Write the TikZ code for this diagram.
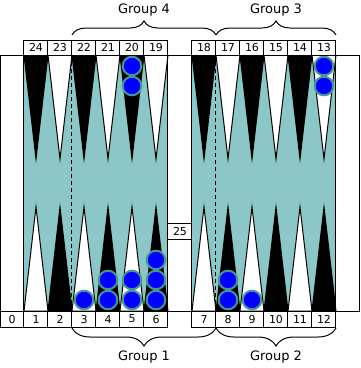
\documentclass[tikz,border=0pt]{standalone}
\usepackage{fontspec}
\setmainfont{DejaVu Sans}
\usetikzlibrary{decorations.pathreplacing}
\definecolor{boardteal}{RGB}{140,198,198}
\definecolor{chkedge}{RGB}{70,150,150}
\definecolor{chkblue}{RGB}{0,0,255}
\tikzset{
  numbox/.style={draw=black, line width=1pt, fill=white, minimum width=24pt, inner sep=0pt, font=\fontsize{11}{11}\selectfont},
  topbox/.style={numbox, minimum height=15pt},
  botbox/.style={numbox, minimum height=16pt},
  darkpt/.style={fill=black, draw=black, line width=1pt},
  lightpt/.style={fill=white, draw=black, line width=1pt},
  checker/.style={circle, fill=chkblue, draw=chkedge, line width=2pt, minimum size=18.6pt, inner sep=0pt},
  grouplabel/.style={font=\fontsize{13}{13}\selectfont, inner sep=0pt},
  groupbrace/.style={draw=black, line width=1pt, decorate, decoration={brace, amplitude=#1}},
  dashline/.style={draw=black, line width=1pt, dash pattern=on 4pt off 3pt}
}
\begin{document}
\begin{tikzpicture}[x=1pt, y=-1pt]
\useasboundingbox (0,0) rectangle (361,368);
% board fills
\fill[white] (0,55) rectangle (360,311);
\fill[boardteal] (24,55) rectangle (168,311);
\fill[boardteal] (192,55) rectangle (336,311);
% top points (left half: 24..19, right half: 18..13)
\foreach \xo/\st in {24/darkpt,48/lightpt,72/darkpt,96/lightpt,120/darkpt,144/lightpt,
                     192/darkpt,216/lightpt,240/darkpt,264/lightpt,288/darkpt,312/lightpt}{
  \path[\st] (\xo,55) -- (\xo+12,159) -- (\xo+24,55) -- cycle;
}
% bottom points (1..6, 7..12)
\foreach \xo/\st in {24/lightpt,48/darkpt,72/lightpt,96/darkpt,120/lightpt,144/darkpt,
                     192/lightpt,216/darkpt,240/lightpt,264/darkpt,288/lightpt,312/darkpt}{
  \path[\st] (\xo,311) -- (\xo+12,207) -- (\xo+24,311) -- cycle;
}
% dashed separators
\coordinate (d1t) at (72,55);  \coordinate (d1b) at (72,311);
\coordinate (d2t) at (216,55); \coordinate (d2b) at (216,311);
\path[dashline] (d1t) -- (d1b);
\path[dashline] (d2t) -- (d2b);
% board outline and bar lines
\draw[line width=1pt] (0,55) rectangle (360,311);
\foreach \xv in {24,168,192,336}{
  \draw[line width=1pt] (\xv,55) -- (\xv,311);
}
% bar box
\node[numbox, minimum height=16pt] (n25) at (180,231) {25};
% checkers
\foreach \cx/\cy [count=\i] in {132/66,132/86,324/66,324/86,
   84/300,108/300,108/280,132/300,132/280,156/300,156/280,156/260,
   228/300,228/280,252/300}{
  \node[checker] (c\i) at (\cx,\cy) {};
}
% top number boxes
\foreach \lab [count=\i] in {24,23,22,21,20,19}{
  \node[topbox] (n\lab) at (12+24*\i,47.5) {\lab};
}
\foreach \lab [count=\i] in {18,17,16,15,14,13}{
  \node[topbox] (n\lab) at (180+24*\i,47.5) {\lab};
}
% bottom number boxes
\foreach \lab [count=\i] in {0,1,2,3,4,5,6}{
  \node[botbox] (n\lab) at (-12+24*\i,319) {\lab};
}
\foreach \lab [count=\i] in {7,8,9,10,11,12}{
  \node[botbox] (n\lab) at (180+24*\i,319) {\lab};
}
% braces
\coordinate (b4l) at (72,35);  \coordinate (b4r) at (216,35);
\coordinate (b3l) at (216,35); \coordinate (b3r) at (336,35);
\coordinate (b1l) at (72,328); \coordinate (b1r) at (216,328);
\coordinate (b2l) at (216,328);\coordinate (b2r) at (336,328);
\path[groupbrace=14pt] (b4l) -- (b4r);
\path[groupbrace=14pt] (b3l) -- (b3r);
\path[groupbrace=18pt] (b1r) -- (b1l);
\path[groupbrace=18pt] (b2r) -- (b2l);
% group labels
\node[grouplabel] (g4) at (144,10) {Group 4};
\node[grouplabel] (g3) at (276,10) {Group 3};
\node[grouplabel] (g1) at (144,357) {Group 1};
\node[grouplabel] (g2) at (276,357) {Group 2};
\end{tikzpicture}
\end{document}
